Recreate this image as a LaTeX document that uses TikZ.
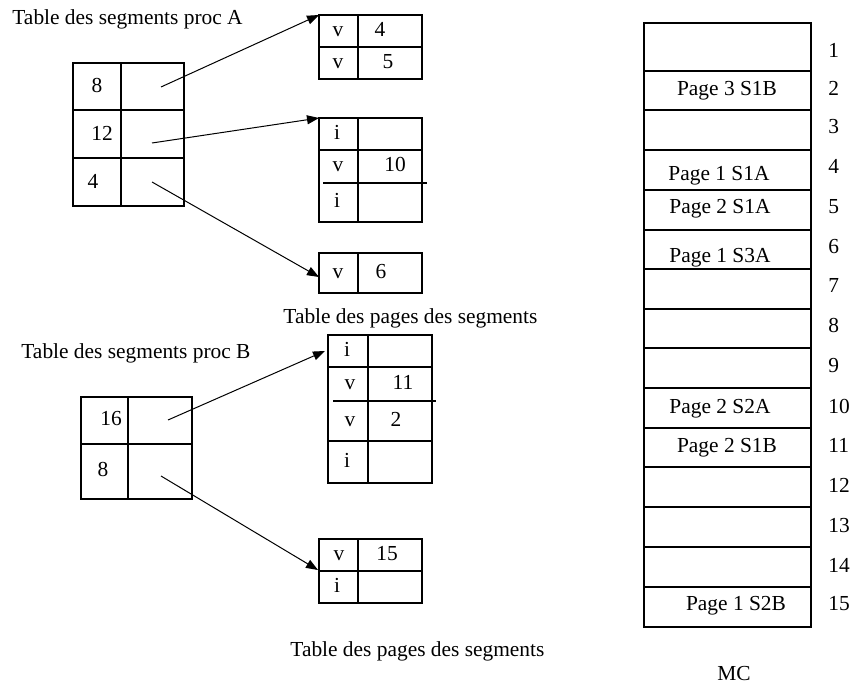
\documentclass[tikz,border=0pt]{standalone}
\usepackage{fontspec}
\setmainfont{Liberation Serif}
\usetikzlibrary{arrows.meta}
\tikzset{
  tab/.style={line width=0.6pt},
  ptr/.style={-{Triangle[length=6pt,width=4.5pt]}, line width=0.5pt},
}
\begin{document}
\begin{tikzpicture}[x=0.5pt,y=-0.5pt, font=\fontsize{10.7}{12}\selectfont,
  every node/.style={text height=1.5ex, text depth=0.25ex, inner sep=0pt}]
\useasboundingbox (0,0) rectangle (850,684);

% segment table A
\node[anchor=base west] (tsa) at (12,25) {Table des segments proc A};
\draw[tab] (73,63) rectangle (184,206);
\draw[tab] (121,63) -- (121,206);
\draw[tab] (73,110) -- (184,110);
\draw[tab] (73,158) -- (184,158);
\node (sa1) at (97,87) {8};
\node (sa2) at (102,135) {12};
\node (sa3) at (93,183) {4};
\coordinate (pa1) at (161,87);
\coordinate (pa2) at (152,143);
\coordinate (pa3) at (152,182);

% page tables A
\draw[tab] (319,15) rectangle (422,79);
\draw[tab] (358,15) -- (358,79);
\draw[tab] (319,47) -- (422,47);
\node (a1v1) at (338,31) {v};
\node (a1f1) at (380,31) {4};
\node (a1v2) at (338,63) {v};
\node (a1f2) at (388,63) {5};
\coordinate (ta1) at (319,15);

\draw[tab] (319,118) rectangle (422,222);
\draw[tab] (358,118) -- (358,222);
\draw[tab] (319,150) -- (422,150);
\draw[tab] (323,183) -- (427,183);
\node (a2v1) at (337,134) {i};
\node (a2v2) at (338,166) {v};
\node (a2f2) at (395,166) {10};
\node (a2v3) at (337,202) {i};
\coordinate (ta2) at (319,118);

\draw[tab] (319,253) rectangle (422,293);
\draw[tab] (358,253) -- (358,293);
\node (a3v1) at (338,273) {v};
\node (a3f1) at (381,273) {6};
\coordinate (ta3) at (319,277);

\draw[ptr] (pa1) -- (ta1);
\draw[ptr] (pa2) -- (ta2);
\draw[ptr] (pa3) -- (ta3);

\node[anchor=base west] (tpa) at (283,323) {Table des pages des segments};

% segment table B
\node[anchor=base west] (tsb) at (21,358) {Table des segments proc B};
\draw[tab] (81,397) rectangle (192,499);
\draw[tab] (128,397) -- (128,499);
\draw[tab] (81,444) -- (192,444);
\node (sb1) at (111,420) {16};
\node (sb2) at (103,471) {8};
\coordinate (pb1) at (168,420);
\coordinate (pb2) at (161,476);

% page tables B
\draw[tab] (328,335) rectangle (432,483);
\draw[tab] (368,335) -- (368,483);
\draw[tab] (328,367) -- (432,367);
\draw[tab] (333,401) -- (436,401);
\draw[tab] (328,441) -- (432,441);
\node (b1v1) at (347,351) {i};
\node (b1v2) at (350,384) {v};
\node (b1f2) at (403,384) {11};
\node (b1v3) at (350,421) {v};
\node (b1f3) at (396,421) {2};
\node (b1v4) at (347,462) {i};
\coordinate (tb1) at (325,351);

\draw[tab] (319,539) rectangle (422,603);
\draw[tab] (358,539) -- (358,603);
\draw[tab] (319,571) -- (422,571);
\node (b2v1) at (339,555) {v};
\node (b2f1) at (387,555) {15};
\node (b2v2) at (337,587) {i};
\coordinate (tb2) at (318,570);

\draw[ptr] (pb1) -- (tb1);
\draw[ptr] (pb2) -- (tb2);

\node[anchor=base west] (tpb) at (290,656) {Table des pages des segments};

% memoire centrale
\draw[tab] (644,23) rectangle (811,627);
\foreach \y in {71,110,150,190,230,269,309,348,388,428,467,507,547,587}
  \draw[tab] (644,\y) -- (811,\y);
\foreach \n/\y in {1/52,2/90,3/128,4/168,5/208,6/248,7/287,8/327,9/367,10/408,11/447,12/487,13/527,14/567,15/605}
  \node[anchor=west] (n\n) at (828,\y) {\n};
\node (m2) at (727,90) {Page 3 S1B};
\node (m4) at (719,175) {Page 1 S1A};
\node (m5) at (720,208) {Page 2 S1A};
\node (m6) at (720,257) {Page 1 S3A};
\node (m10) at (720,408) {Page 2 S2A};
\node (m11) at (727,447) {Page 2 S1B};
\node (m15) at (736,605) {Page 1 S2B};
\node[anchor=base] (mc) at (734,680) {MC};
\end{tikzpicture}
\end{document}
